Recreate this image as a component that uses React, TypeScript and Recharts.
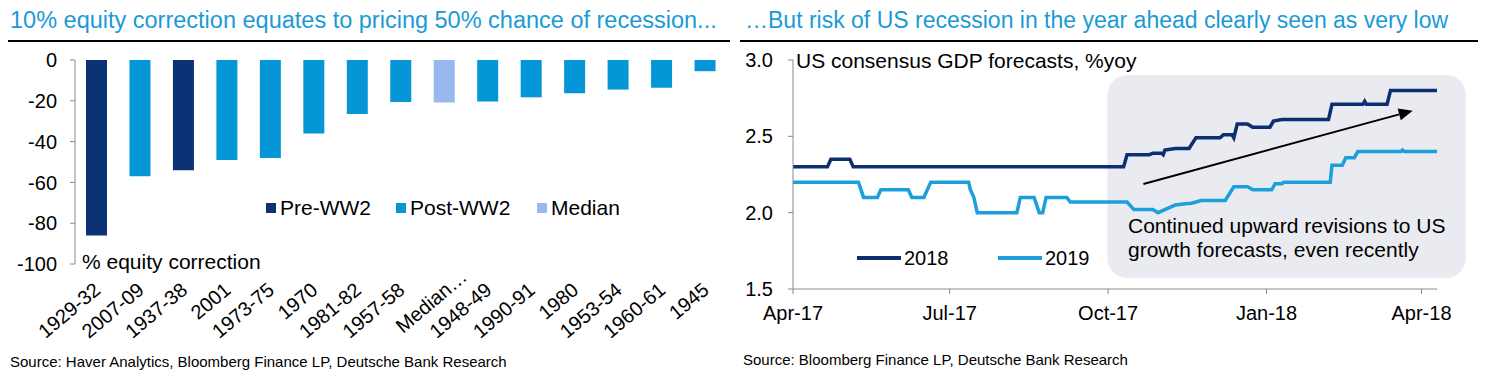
import React from "react";
import {
  Bar,
  BarChart,
  Cell,
  Line,
  LineChart,
  ReferenceArea,
  ReferenceLine,
  XAxis,
  YAxis,
} from "recharts";

// ---- left chart data ----
const episodes = [
  "1929-32", "2007-09", "1937-38", "2001", "1973-75", "1970", "1981-82", "1957-58",
  "Median…", "1948-49", "1990-91", "1980", "1953-54", "1960-61", "1945",
];
const corrections = [-86, -57, -54, -49, -48, -36, -26.5, -20.6, -20.8, -20.4, -18.3, -16.3, -14.5, -13.6, -5.5];
const groups = ["pre", "post", "pre", "post", "post", "post", "post", "post", "median", "post", "post", "post", "post", "post", "post"];
const corrTicks = [0, -20, -40, -60, -80, -100];

const groupNames = ["Pre-WW2", "Post-WW2", "Median"];
const groupKeys = ["pre", "post", "median"];
const groupColors: Record<string, string> = {
  pre: "#0b3274",
  post: "#0596d8",
  median: "#97b9ef",
};

// ---- right chart data (days since 1-Apr-2017) ----
const days2018 = [0, 20, 22, 33, 35, 192, 194, 207, 209, 214, 215, 216, 222, 230, 234, 248, 250, 255, 256, 258, 264, 267, 277, 279, 284, 311, 313, 331, 332, 333, 345, 347, 374];
const gdp2018 = [2.3, 2.3, 2.35, 2.35, 2.3, 2.3, 2.38, 2.38, 2.39, 2.39, 2.38, 2.41, 2.42, 2.42, 2.49, 2.49, 2.51, 2.51, 2.49, 2.58, 2.58, 2.56, 2.56, 2.6, 2.61, 2.61, 2.71, 2.71, 2.73, 2.71, 2.71, 2.8, 2.8];

const days2019 = [0, 38, 41, 49, 51, 67, 69, 76, 80, 102, 103, 105, 107, 130, 132, 140, 143, 145, 147, 159, 161, 194, 198, 209, 212, 214, 222, 229, 231, 237, 251, 256, 264, 267, 278, 280, 284, 285, 312, 313, 319, 321, 326, 328, 353, 354, 355, 374];
const gdp2019 = [2.2, 2.2, 2.1, 2.1, 2.15, 2.15, 2.1, 2.1, 2.2, 2.2, 2.15, 2.1, 2.0, 2.0, 2.1, 2.1, 2.0, 2.0, 2.1, 2.1, 2.07, 2.07, 2.02, 2.02, 2.0, 2.01, 2.05, 2.06, 2.06, 2.08, 2.08, 2.17, 2.17, 2.15, 2.15, 2.19, 2.19, 2.2, 2.2, 2.31, 2.31, 2.36, 2.36, 2.4, 2.4, 2.41, 2.4, 2.4];

const dateTicks = [0, 91, 183, 275, 365];
const dateLabels = ["Apr-17", "Jul-17", "Oct-17", "Jan-18", "Apr-18"];
const gdpTicks = [1.5, 2.0, 2.5, 3.0];

const barData = episodes.map((name, i) => ({ name, value: corrections[i], group: groups[i] }));
const line2018 = days2018.map((day, i) => ({ day, v: gdp2018[i] }));
const line2019 = days2019.map((day, i) => ({ day, v: gdp2019[i] }));

const AXIS = "#8a8a8a";
const FONT = "'Liberation Sans', Arial, sans-serif";
const C2018 = "#0d2f72";
const C2019 = "#1c9fdc";

const CatTick = (props: any) => {
  const { x, y, payload } = props;
  // the truncated median label sits higher, like a wrapped two-line label
  const isMedian = String(payload.value).endsWith("…");
  const tx = x + (isMedian ? 24 : 5);
  const ty = y + (isMedian ? 15 : 28);
  return (
    <text
      x={tx}
      y={ty}
      textAnchor="end"
      fontSize={20}
      fill="#000"
      fontFamily={FONT}
      transform={`rotate(-40, ${tx}, ${ty})`}
    >
      {payload.value}
    </text>
  );
};

const ArrowShape = (props: any) => {
  const { x1, y1, x2, y2 } = props;
  if (x1 == null) return null;
  const ang = Math.atan2(y2 - y1, x2 - x1);
  const len = 14;
  const half = 6;
  const bx = x2 - len * Math.cos(ang);
  const by = y2 - len * Math.sin(ang);
  const px = -Math.sin(ang) * half;
  const py = Math.cos(ang) * half;
  return (
    <g>
      <line x1={x1} y1={y1} x2={bx} y2={by} stroke="#000" strokeWidth={2} />
      <polygon points={`${x2},${y2} ${bx + px},${by + py} ${bx - px},${by - py}`} fill="#000" />
    </g>
  );
};

const BoxShape = (props: any) => {
  const { x, y, width, height } = props;
  return <rect x={x} y={y} width={width} height={height} rx={20} ry={20} fill="#e9ebf0" />;
};

export default function App() {
  return (
    <div
      style={{
        position: "absolute",
        left: 0,
        top: 0,
        width: 1494,
        height: 389,
        background: "#fff",
        fontFamily: FONT,
        overflow: "hidden",
      }}
    >
      {/* titles */}
      <div style={{ position: "absolute", left: 10, top: 7, fontSize: 23.5, color: "#1b9ad6", whiteSpace: "nowrap" }}>
        10% equity correction equates to pricing 50% chance of recession...
      </div>
      <div style={{ position: "absolute", left: 745, top: 7, fontSize: 23, color: "#1b9ad6", whiteSpace: "nowrap" }}>
        …But risk of US recession in the year ahead clearly seen as very low
      </div>
      <div style={{ position: "absolute", left: 8, top: 40, width: 722, height: 2, background: "#000" }} />
      <div style={{ position: "absolute", left: 740, top: 40, width: 738, height: 2, background: "#000" }} />

      {/* left chart */}
      <div style={{ position: "absolute", left: 0, top: 0 }}>
        <BarChart width={740} height={389} data={barData} margin={{ top: 60, right: 13, left: 15, bottom: 65 }}>
          <XAxis
            xAxisId="cat"
            dataKey="name"
            interval={0}
            axisLine={false}
            tickLine={false}
            tickSize={0}
            tickMargin={0}
            height={60}
            tick={<CatTick />}
          />
          <XAxis
            xAxisId="top"
            orientation="top"
            type="number"
            domain={[0, 15]}
            ticks={[0, 1, 2, 3, 4, 5, 6, 7, 8, 9, 10, 11, 12, 13, 14, 15]}
            interval={0}
            mirror
            tickSize={6}
            stroke={AXIS}
            tickFormatter={() => ""}
            height={0}
          />
          <YAxis
            domain={[-100, 0]}
            ticks={corrTicks}
            interval={0}
            width={60}
            stroke={AXIS}
            tickSize={5}
            tickMargin={13}
            tick={{ fill: "#000", fontSize: 20, fontFamily: FONT }}
          />
          <Bar xAxisId="cat" dataKey="value" barSize={21} isAnimationActive={false}>
            {barData.map((d, i) => (
              <Cell key={`c-${i}`} fill={groupColors[d.group]} />
            ))}
          </Bar>
        </BarChart>
      </div>
      <div style={{ position: "absolute", left: 82, top: 250, fontSize: 21, color: "#000", whiteSpace: "nowrap" }}>
        % equity correction
      </div>
      {groupNames.map((g, i) => (
        <div
          key={g}
          style={{ position: "absolute", left: [266, 396, 537][i], top: 196, display: "flex", alignItems: "center", fontSize: 21, whiteSpace: "nowrap" }}
        >
          <span style={{ display: "inline-block", width: 10, height: 10, background: groupColors[groupKeys[i]], marginRight: 4 }} />
          {g}
        </div>
      ))}
      <div style={{ position: "absolute", left: 10, top: 353, fontSize: 15, color: "#000", whiteSpace: "nowrap" }}>
        Source: Haver Analytics, Bloomberg Finance LP, Deutsche Bank Research
      </div>

      {/* right chart */}
      <div style={{ position: "absolute", left: 740, top: 0 }}>
        <LineChart width={754} height={340} margin={{ top: 60, right: 57, left: 8, bottom: 21 }}>
          <ReferenceArea
            x1={182.6}
            x2={390.7}
            y1={1.572}
            y2={2.902}
            ifOverflow="visible"
            shape={<BoxShape />}
          />
          <XAxis
            dataKey="day"
            type="number"
            domain={[0, 374]}
            ticks={dateTicks}
            interval={0}
            tickFormatter={(v: number) => dateLabels[dateTicks.indexOf(v)]}
            stroke={AXIS}
            tickSize={5}
            tickMargin={12}
            height={30}
            allowDuplicatedCategory={false}
            tick={{ fill: "#000", fontSize: 20, fontFamily: FONT }}
          />
          <YAxis
            domain={[1.5, 3]}
            ticks={gdpTicks}
            interval={0}
            width={45}
            stroke={AXIS}
            tickSize={5}
            tickMargin={15}
            tickFormatter={(v: number) => v.toFixed(1)}
            tick={{ fill: "#000", fontSize: 20, fontFamily: FONT }}
          />
          <ReferenceLine
            segment={[{ x: 203.5, y: 2.188 }, { x: 359.9, y: 2.668 }]}
            ifOverflow="visible"
            shape={<ArrowShape />}
          />
          <Line data={line2018} dataKey="v" type="linear" stroke={C2018} strokeWidth={3.5} dot={false} isAnimationActive={false} />
          <Line data={line2019} dataKey="v" type="linear" stroke={C2019} strokeWidth={3.5} dot={false} isAnimationActive={false} />
        </LineChart>
      </div>
      <div style={{ position: "absolute", left: 796, top: 49, fontSize: 21, lineHeight: "24px", color: "#000", whiteSpace: "nowrap" }}>
        US consensus GDP forecasts, %yoy
      </div>
      <div style={{ position: "absolute", left: 1128, top: 214, fontSize: 21, lineHeight: "24px", color: "#000", whiteSpace: "nowrap" }}>
        Continued upward revisions to US
        <br />
        growth forecasts, even recently
      </div>
      {[
        { name: "2018", color: C2018, left: 857 },
        { name: "2019", color: C2019, left: 998 },
      ].map((s) => (
        <div key={s.name} style={{ position: "absolute", left: s.left, top: 246, display: "flex", alignItems: "center", fontSize: 20, lineHeight: "24px", whiteSpace: "nowrap" }}>
          <span style={{ display: "inline-block", width: 44, height: 4, background: s.color, marginRight: 3 }} />
          {s.name}
        </div>
      ))}
      <div style={{ position: "absolute", left: 743, top: 351, fontSize: 15, color: "#000", whiteSpace: "nowrap" }}>
        Source: Bloomberg Finance LP, Deutsche Bank Research
      </div>
    </div>
  );
}
